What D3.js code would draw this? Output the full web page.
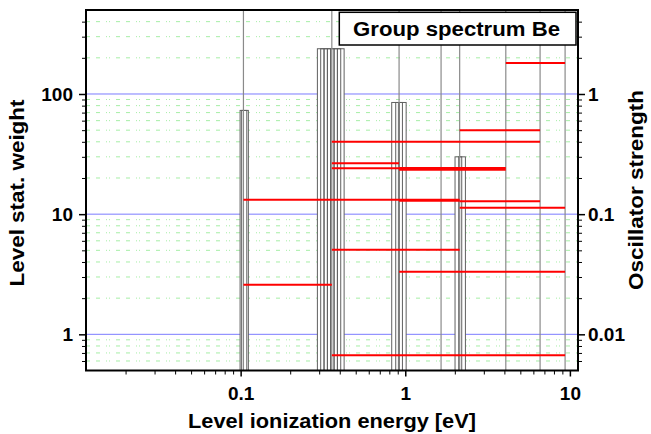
<!DOCTYPE html>
<html>
<head>
<meta charset="utf-8">
<script src="https://cdn.jsdelivr.net/npm/d3@7"></script>
<style>
    body { margin: 0; background: #fff; }
    svg { display: block; font-family: "Liberation Sans", Arial, sans-serif; }
</style>
</head>
<body>
<div id="d3plot"></div>
<script>
// Data
// ==================================================================
// levels taking part in transitions [eV]
const levelEnergy = [0.104, 0.358, 0.917, 1.65, 2.14, 4.08, 6.59, 9.35];

// statistical weight bars
const barEnergy = [0.104, 0.1063,
    0.3066, 0.3211, 0.3362, 0.3527, 0.3693, 0.3869, 0.4057,
    0.867, 0.917, 0.966,
    2.102, 2.213];
const barWeight = [73, 73,
    238, 238, 238, 238, 238, 238, 238,
    85, 85, 85,
    30, 30];

// transitions: lower level, upper level, oscillator strength
const transLower    = [4.08, 2.14, 0.358, 0.358, 0.358, 0.917, 0.917, 0.104, 0.917, 2.14, 2.14, 0.358, 0.917, 0.104, 0.358];
const transUpper    = [9.35, 6.59, 6.59, 0.917, 0.917, 4.08, 4.08, 2.14, 2.14, 6.59, 9.35, 2.14, 9.35, 0.358, 9.35];
const transStrength = [1.81, 0.50, 0.40, 0.265, 0.241, 0.242, 0.234, 0.132, 0.129, 0.128, 0.113, 0.0506, 0.0332, 0.0259, 0.0067];

// axes
const xMajorTicks = [0.1, 1, 10];
const yLeftMajorTicks = [1, 10, 100];
const yRightMajorTicks = [0.01, 0.1, 1];
const xTitle = "Level ionization energy [eV]",
    yLeftTitle = "Level stat. weight",
    yRightTitle = "Oscillator strength",
    legendLabel = "Group spectrum Be";

// Layout
// ==================================================================
const margin = {top: 10, right: 73, bottom: 63.5, left: 86},
    width = 651 - margin.left - margin.right,
    height = 434 - margin.top - margin.bottom,
    barWidth = 6.7;

// Scales
// ==================================================================
const xScale = d3.scaleLog().domain([0.0115, 11.2]).range([0, width]);
const yLeft = d3.scaleLog().domain([0.5, 500]).range([height, 0]);
const yRight = d3.scaleLog().domain([0.005, 5]).range([height, 0]);

// minor ticks = log ticks inside the domain that are not majors
function minor_ticks(scale, majors) {
    const [a, b] = scale.domain();
    return scale.ticks().filter(d => d > a * 1.001 && d < b * 0.999 &&
        !majors.some(m => Math.abs(m - d) < 1e-9 * m));
}

// Svg
// ==================================================================
const root = d3.select("#d3plot")
    .append("svg")
        .attr("width", 651)
        .attr("height", 434);

const svg = root.append("g")
    .attr("transform", "translate(" + margin.left + "," + margin.top + ")");

// Grid
// ==================================================================
svg.append("g")
    .selectAll("line")
    .data(minor_ticks(yLeft, yLeftMajorTicks))
    .enter()
    .append("line")
        .attr("x1", 0)
        .attr("x2", width)
        .attr("y1", d => yLeft(d))
        .attr("y2", d => yLeft(d))
        .attr("stroke", "#a6eea6")
        .attr("stroke-width", 1)
        .attr("stroke-dasharray", "4,6,4,6,1,2,1,6");

svg.append("g")
    .selectAll("line")
    .data(yLeftMajorTicks)
    .enter()
    .append("line")
        .attr("x1", 0)
        .attr("x2", width)
        .attr("y1", d => yLeft(d))
        .attr("y2", d => yLeft(d))
        .attr("stroke", "#7c7cff")
        .attr("stroke-width", 1);

// Bars (white fill first, outlines after, so every edge shows)
// ==================================================================
const bars = barEnergy.map((e, i) => ({energy: e, weight: barWeight[i]}));

svg.append("g")
    .selectAll("rect")
    .data(bars)
    .enter()
    .append("rect")
        .attr("x", d => xScale(d.energy) - barWidth / 2)
        .attr("width", barWidth)
        .attr("y", d => yLeft(d.weight))
        .attr("height", d => height - yLeft(d.weight))
        .attr("fill", "#fff");

svg.append("g")
    .selectAll("rect")
    .data(bars)
    .enter()
    .append("rect")
        .attr("x", d => xScale(d.energy) - barWidth / 2)
        .attr("width", barWidth)
        .attr("y", d => yLeft(d.weight))
        .attr("height", d => height - yLeft(d.weight))
        .attr("fill", "none")
        .attr("stroke", "#606060")
        .attr("stroke-width", 1);

// Levels
// ==================================================================
svg.append("g")
    .selectAll("line")
    .data(levelEnergy)
    .enter()
    .append("line")
        .attr("x1", d => xScale(d))
        .attr("x2", d => xScale(d))
        .attr("y1", 0)
        .attr("y2", height)
        .attr("stroke", "#8a8a8a")
        .attr("stroke-width", 1.2);

// Transitions
// ==================================================================
const trans = transLower.map((lo, i) => ({lo: lo, hi: transUpper[i], f: transStrength[i]}));

svg.append("g")
    .selectAll("line")
    .data(trans)
    .enter()
    .append("line")
        .attr("x1", d => xScale(d.lo))
        .attr("x2", d => xScale(d.hi))
        .attr("y1", d => yRight(d.f))
        .attr("y2", d => yRight(d.f))
        .attr("stroke", "#ff0000")
        .attr("stroke-width", 2);

// Frame and axes
// ==================================================================
svg.append("rect")
    .attr("width", width)
    .attr("height", height)
    .attr("fill", "none")
    .attr("stroke", "#000")
    .attr("stroke-width", 2);

function style_axis(g, w) {
    g.select(".domain").remove();
    g.selectAll("line").attr("stroke", "#000").attr("stroke-width", w);
    g.selectAll("text")
        .attr("font-family", "Liberation Sans, Arial, sans-serif")
        .attr("font-size", "19px")
        .attr("font-weight", "bold")
        .attr("fill", "#000");
}

svg.append("g")
    .call(d3.axisLeft(yLeft).tickValues(yLeftMajorTicks).tickSize(7).tickPadding(6).tickFormat(d3.format("~g")))
    .call(style_axis, 1.5);
svg.append("g")
    .call(d3.axisLeft(yLeft).tickValues(minor_ticks(yLeft, yLeftMajorTicks)).tickSize(4).tickFormat(""))
    .call(style_axis, 1);

svg.append("g")
    .attr("transform", "translate(" + width + ",0)")
    .call(d3.axisRight(yRight).tickValues(yRightMajorTicks).tickSize(7).tickPadding(3).tickFormat(d3.format("~g")))
    .call(style_axis, 1.5);
svg.append("g")
    .attr("transform", "translate(" + width + ",0)")
    .call(d3.axisRight(yRight).tickValues(minor_ticks(yRight, yRightMajorTicks)).tickSize(4).tickFormat(""))
    .call(style_axis, 1);

svg.append("g")
    .attr("transform", "translate(0," + height + ")")
    .call(d3.axisBottom(xScale).tickValues(xMajorTicks).tickSize(6).tickPadding(10).tickFormat(d3.format("~g")))
    .call(style_axis, 1.5);
svg.append("g")
    .attr("transform", "translate(0," + height + ")")
    .call(d3.axisBottom(xScale).tickValues(minor_ticks(xScale, xMajorTicks)).tickSize(4).tickFormat(""))
    .call(style_axis, 1);

// Legend
// ==================================================================
svg.append("rect")
    .attr("x", 253.3)
    .attr("y", 2.3)
    .attr("width", 236.7)
    .attr("height", 32.7)
    .attr("fill", "#fff")
    .attr("stroke", "#000")
    .attr("stroke-width", 1.5);

svg.append("text")
    .attr("x", 370.5)
    .attr("y", 26)
    .attr("text-anchor", "middle")
    .attr("font-size", "20px")
    .attr("font-weight", "bold")
    .attr("textLength", 207)
    .attr("lengthAdjust", "spacingAndGlyphs")
    .text(legendLabel);

// Titles
// ==================================================================
root.append("text")
    .attr("x", margin.left + width / 2)
    .attr("y", 428)
    .attr("text-anchor", "middle")
    .attr("font-size", "20px")
    .attr("font-weight", "bold")
    .attr("textLength", 288)
    .attr("lengthAdjust", "spacingAndGlyphs")
    .text(xTitle);

root.append("text")
    .attr("transform", "translate(24,193) rotate(-90)")
    .attr("text-anchor", "middle")
    .attr("font-size", "20px")
    .attr("font-weight", "bold")
    .attr("textLength", 187)
    .attr("lengthAdjust", "spacingAndGlyphs")
    .text(yLeftTitle);

root.append("text")
    .attr("transform", "translate(643,190) rotate(-90)")
    .attr("text-anchor", "middle")
    .attr("font-size", "20px")
    .attr("font-weight", "bold")
    .attr("textLength", 200)
    .attr("lengthAdjust", "spacingAndGlyphs")
    .text(yRightTitle);
</script>
</body>
</html>
